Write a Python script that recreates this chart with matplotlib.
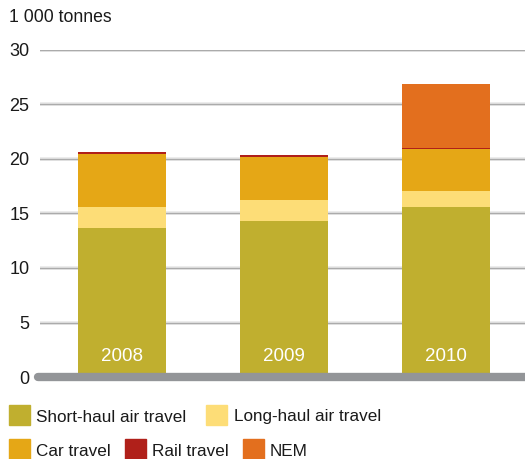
import matplotlib.pyplot as plt
import numpy as np

years = ["2008", "2009", "2010"]
short_haul = np.array([13.7, 14.3, 15.6])
long_haul = np.array([1.9, 1.95, 1.46])
car = np.array([4.85, 3.9, 3.86])
rail = np.array([0.2, 0.18, 0.12])
nem = np.array([0.0, 0.0, 5.84])

series = [short_haul, long_haul, car, rail, nem]
names = ["Short-haul air travel", "Long-haul air travel", "Car travel", "Rail travel", "NEM"]
colors = ["#C0AF2F", "#FDDD77", "#E5A716", "#B0201A", "#E36F1E"]

plt.rcParams['font.family'] = ['Liberation Sans', 'DejaVu Sans']

W, H = 525, 459
fig = plt.figure(figsize=(W / 100, H / 100), dpi=100)
ax = fig.add_axes([40 / W, (H - 377) / H, 485 / W, 327 / H])

x = np.arange(len(years))
bottom = np.zeros(len(years))
for vals, c in zip(series, colors):
    ax.bar(x, vals, 0.543, bottom=bottom, color=c, zorder=2)
    bottom += vals

ax.set_xlim(-0.506, 2.488)
ax.set_ylim(0, 30)

# horizontal grid
for yv in range(5, 31, 5):
    ax.axhline(yv, color="#E8E8E8", lw=2.6, zorder=0)
    ax.axhline(yv, color="#ABABAB", lw=1.0, zorder=1)

# thick rounded baseline
ax.plot([-0.52, 2.6], [0, 0], color="#939598", lw=6, solid_capstyle="round",
        clip_on=False, zorder=3)

for xi, yr in zip(x, years):
    ax.text(xi, 1.85, yr, color="white", ha="center", va="center", fontsize=13.5, zorder=4)

for s in ax.spines.values():
    s.set_visible(False)
ax.set_xticks([])
ax.set_yticks(range(0, 31, 5))
ax.tick_params(axis="y", length=0, pad=7.5, labelsize=13, labelcolor="#1A1A1A")

fig.text(9 / W, 1 - 17 / H, "1 000 tonnes", fontsize=12.7, va="center", ha="left", color="#1A1A1A")

# legend rows
legend_pos = [(9, 415, 36), (206, 415, 234), (9, 449, 36), (125, 449, 152), (243, 449, 270)]
for (px, py, tx), name, c in zip(legend_pos, names, colors):
    fig.patches.append(plt.Rectangle((px / W, 1 - (py + 10) / H), 21 / W, 20 / H,
                                     transform=fig.transFigure, color=c))
    fig.text(tx / W, 1 - (py + 2) / H, name, fontsize=12.3, va="center", ha="left", color="#1A1A1A")

fig.savefig("out.png", dpi=100)
